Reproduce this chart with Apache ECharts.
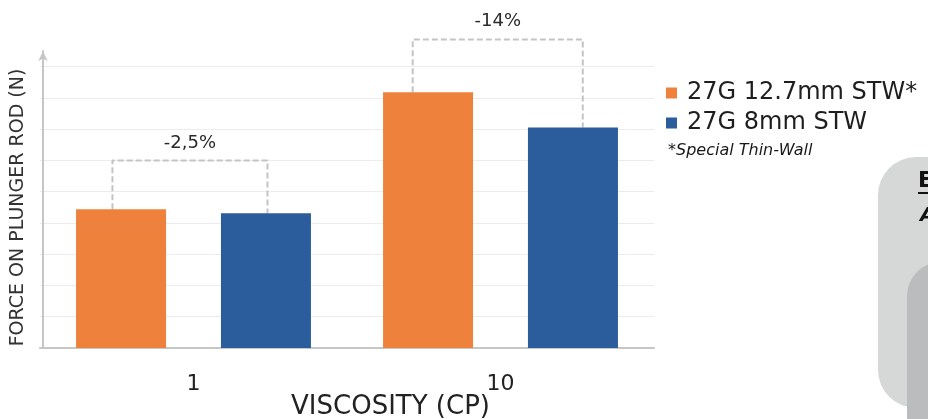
<!DOCTYPE html>
<html>
<head>
<meta charset="utf-8">
<script src="https://cdn.jsdelivr.net/npm/echarts@6/dist/echarts.min.js"></script>
<style>
html,body{margin:0;padding:0;background:#fff;}
#chart{width:928px;height:419px;}
</style>
</head>
<body>
<div id="chart"></div>
<script>
// ---- data ----
var categories = ['1', '10'];
var seriesNames = ['27G 12.7mm STW*', '27G 8mm STW'];
var stw127 = [4.44, 8.18];
var stw8 = [4.31, 7.05];
var diffLabels = ['-2,5%', '-14%'];
var bracketTops = [6.0, 9.87];
var bracketLeftX = [-0.264, 0.714];
var bracketRightX = [0.241, 1.268];
var diffLabelY = [6.54, 10.46];

// ---- build ----
var bracketLines = [];
var labelPoints = [];
for (var i = 0; i < categories.length; i++) {
  var pts = [
    [bracketLeftX[i], stw127[i]],
    [bracketLeftX[i], bracketTops[i]],
    [bracketRightX[i], bracketTops[i]],
    [bracketRightX[i], stw8[i]]
  ];
  bracketLines.push({
    type: 'line', xAxisIndex: 1, yAxisIndex: 0, data: pts,
    symbol: 'none', silent: true, clip: false, z: 1,
    lineStyle: { color: '#c4c4c4', width: 2, type: [6, 3] }
  });
  labelPoints.push({
    value: [(bracketLeftX[i] + bracketRightX[i]) / 2, diffLabelY[i]],
    label: { formatter: diffLabels[i] }
  });
}

var chart = echarts.init(document.getElementById('chart'), null, { renderer: 'canvas' });
var FONT = 'DejaVu Sans';
var option = {
  backgroundColor: '#ffffff',
  animation: false,
  grid: { left: 40, right: 274, top: 51, bottom: 71, containLabel: false, outerBoundsMode: 'none' },
  legend: {
    data: seriesNames,
    orient: 'vertical',
    left: 661, top: 76,
    itemWidth: 11, itemHeight: 11, itemGap: 6,
    icon: 'rect',
    textStyle: { fontFamily: FONT, fontSize: 24, color: '#1e1e1e', padding: [0, 0, 0, 5] }
  },
  xAxis: [{
    type: 'category',
    data: categories,
    axisLine: { lineStyle: { color: '#c6c6c6', width: 2 } },
    axisTick: { show: false },
    axisLabel: { fontFamily: FONT, fontSize: 22, color: '#222', margin: 25 },
    name: 'VISCOSITY (CP)',
    nameLocation: 'middle',
    nameGap: 46,
    nameMoveOverlap: false,
    nameTextStyle: { fontFamily: FONT, fontSize: 26, color: '#222', padding: [0, 0, 0, 87] }
  }, {
    type: 'value', min: -0.5, max: 1.5, show: false
  }],
  yAxis: {
    type: 'value', min: 0, max: 9.5, interval: 1,
    offset: -3,
    axisLabel: { show: false },
    axisTick: { show: false },
    axisLine: { show: true, onZero: false, lineStyle: { color: '#c6c6c6', width: 2 }, symbol: ['none', 'arrow'], symbolSize: [7, 10] },
    splitLine: { show: true, showMaxLine: false, showMinLine: false, lineStyle: { color: '#ececec', width: 1 } },
    name: 'FORCE ON PLUNGER ROD (N)',
    nameLocation: 'middle',
    nameGap: 15,
    nameRotate: 90,
    nameTextStyle: { fontFamily: FONT, fontSize: 19, color: '#333', padding: [0, 16, 0, 0] }
  },
  series: [
    { name: seriesNames[0], type: 'bar', data: stw127, barWidth: 90, barGap: '61%',
      itemStyle: { color: '#ee823c' }, z: 2 },
    { name: seriesNames[1], type: 'bar', data: stw8, barWidth: 90,
      itemStyle: { color: '#2b5d9c' }, z: 2 }
  ].concat(bracketLines).concat([{
    type: 'scatter', xAxisIndex: 1, yAxisIndex: 0, data: labelPoints,
    symbolSize: 1, itemStyle: { color: '#ffffff', opacity: 0 }, clip: false, silent: true,
    label: { show: true, position: 'inside', fontFamily: FONT, fontSize: 18, color: '#2a2a2a',
             opacity: 1, textBorderWidth: 0 }
  }]),
  graphic: [
    { type: 'text', left: 668, top: 143,
      style: { text: '*Special Thin-Wall', font: 'italic 16px "DejaVu Sans"', fill: '#1a1a1a' } },
    { type: 'rect', shape: { x: 878, y: 157, width: 120, height: 251, r: 38 },
      style: { fill: '#d6d7d7' }, z: -10 },
    { type: 'rect', shape: { x: 907, y: 262, width: 80, height: 200, r: 34 },
      style: { fill: '#babcbd' }, z: -9 },
    { type: 'text', x: 918, y: 170,
      style: { text: 'E', font: 'bold 22px "DejaVu Sans"', fill: '#111' }, z: -8 },
    { type: 'rect', shape: { x: 918, y: 192, width: 12, height: 2 }, style: { fill: '#111' }, z: -8 },
    { type: 'text', x: 920, y: 206,
      style: { text: 'A', font: 'italic bold 20px "DejaVu Sans"', fill: '#111' }, z: -8 }
  ]
};
chart.setOption(option);
</script>
</body>
</html>
